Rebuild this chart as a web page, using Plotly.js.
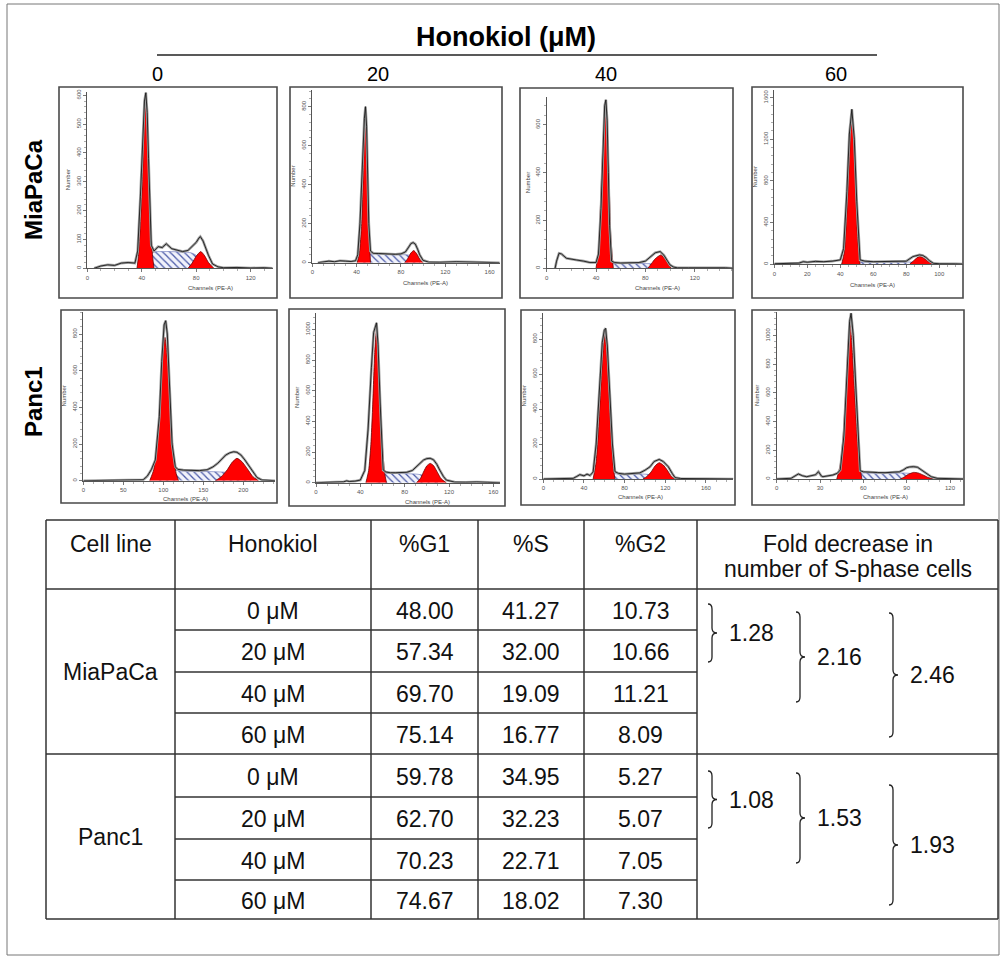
<!DOCTYPE html>
<html><head><meta charset="utf-8">
<script src="https://cdn.plot.ly/plotly-3.0.1.min.js"></script>
<style>html,body{margin:0;padding:0;background:#fff}#chart{width:1002px;height:957px}</style>
</head><body><div id="chart"></div>
<script>
// ================= DATA =================
const doseHeader = ["0", "20", "40", "60"];
const cellLines = ["MiaPaCa", "Panc1"];
const doseLabels = ["0 μM", "20 μM", "40 μM", "60 μM"];
const tableHeaders = ["Cell line", "Honokiol", "%G1", "%S", "%G2"];
const foldHeader = ["Fold decrease in", "number of S-phase cells"];

const miaG1 = [48.00, 57.34, 69.70, 75.14];
const miaS  = [41.27, 32.00, 19.09, 16.77];
const miaG2 = [10.73, 10.66, 11.21, 8.09];
const panG1 = [59.78, 62.70, 70.23, 74.67];
const panS  = [34.95, 32.23, 22.71, 18.02];
const panG2 = [5.27, 5.07, 7.05, 7.30];
const miaFold = [1.28, 2.16, 2.46];
const panFold = [1.08, 1.53, 1.93];

// ---- DNA histograms (channel, count) ----
// MiaPaCa 0 uM
const mia0_ch  = [5,10,15,20,25,30,35,37,39,41,42,43,44,45,46,47,49,52,55,58,62,66,70,74,77,80,82,83,85,87,89,92,96,100,110,120,130,136];
const mia0_cnt = [0,8,12,10,18,20,18,60,250,480,580,609,540,380,200,80,60,75,72,85,68,64,58,62,75,90,105,110,95,70,45,15,5,2,3,1,2,0];
const mia0_g1x = [36.5,37.5,39,40.4,42,42.9,44,45.3,46.5,48,49];
const mia0_g1y = [0,40,150,300,520,601,480,300,150,40,0];
const mia0_g2x = [74,77,80,83.3,86,89,93];
const mia0_g2y = [0,18,42,58,45,20,0];
const mia0_sx  = [40,44,48,55,62,70,76,80,84,88];
const mia0_sy  = [0,30,55,58,58,56,54,45,25,0];
const mia0_pk  = [42.9,83.3];
// MiaPaCa 20 uM
const mia20_ch  = [5,10,15,20,25,30,35,39,41,43,45,47,48,49,50,51,52.5,55,60,65,70,75,80,84,87,89,91,93,95,97,100,105,115,130,145,160,169];
const mia20_cnt = [0,5,8,5,10,8,6,10,40,200,480,740,800,700,450,200,60,48,47,45,44,43,45,55,80,98,103,95,70,40,12,3,2,5,3,2,0];
const mia20_g1x = [40.5,42.5,44.5,46,47.2,48,49,50.2,51.3,52.5];
const mia20_g1y = [0,50,200,450,700,790,640,400,150,0];
const mia20_g2x = [83.4,86,89,91.5,94,97,100];
const mia20_g2y = [0,20,50,62,48,18,0];
const mia20_sx  = [46,50,55,65,75,82,88,93,97];
const mia20_sy  = [0,40,46,44,42,41,38,20,0];
const mia20_pk  = [47.6,91.6];
// MiaPaCa 40 uM
const mia40_ch  = [6.8,8,10,12,16,20,24,30,35,40,42,44,46,47,48,49,50,51,52.6,55,60,65,70,75,80,84,88,92,95,98,100,103,106,115,130,145,151];
const mia40_cnt = [0,30,63,60,42,40,35,30,24,24,60,250,560,680,705,620,400,180,30,24,22,22,23,24,30,49,65,70,55,30,14,5,2,2,3,2,0];
const mia40_g1x = [40,42,43.5,45,46.5,47.8,49,50.5,52,54];
const mia40_g1y = [0,80,250,450,620,690,600,380,130,0];
const mia40_g2x = [82,85,88,92.6,96,99,101];
const mia40_g2y = [0,20,40,56,40,14,0];
const mia40_sx  = [44,50,60,70,80,86,92,98];
const mia40_sy  = [0,20,20,20,20,18,10,0];
const mia40_pk  = [48,92.8];
// MiaPaCa 60 uM
const mia60_ch  = [0,5,10,15,17.6,20,25,30,35,38,40,42,44,45.5,47,48.5,50,52,55,60,65,70,75,80,84,86,88,90,92,94,96.4,100,105,110,114];
const mia60_cnt = [5,8,10,12,25,20,28,25,30,35,42,150,700,1250,1488,1200,600,42,30,25,25,28,25,30,74,85,90,85,65,35,10,5,8,4,2];
const mia60_g1x = [40.8,42.5,44,45.5,46.5,47,48,49.3,50.5,52];
const mia60_g1y = [0,120,500,1000,1350,1418,1250,750,250,0];
const mia60_g2x = [82,84.5,86.5,88,90,93,96.4];
const mia60_g2y = [0,35,62,74,65,30,0];
const mia60_sx  = [44,50,60,70,78,84,90,94];
const mia60_sy  = [0,20,18,18,20,22,12,0];
const mia60_pk  = [47.3,85.6];
// Panc1 0 uM
const pan0_ch  = [0,20,40,60,75,80,85,90,95,98,101,103,105,108,111,115,118,125,135,145,155,162,168,173,178,183,188,192,197,202,207,212,217,223,230,240];
const pan0_cnt = [0,2,0,3,5,25,60,113,350,650,850,873,800,500,200,76,62,58,55,55,60,75,95,115,140,152,158,155,140,113,80,45,18,4,2,0];
const pan0_g1x = [83,88,92,95,98,102,106,109,112,116,119];
const pan0_g1y = [0,60,200,380,620,782,620,380,180,40,0];
const pan0_g2x = [165,172,180,186,192,198,205,212,219];
const pan0_g2y = [0,20,60,100,122,105,65,22,0];
const pan0_sx  = [95,105,115,125,140,155,170,180,190,200,210];
const pan0_sy  = [0,35,55,52,50,50,48,45,38,20,0];
const pan0_pk  = [104,188.5];
// Panc1 20 uM
const pan20_ch  = [0,10,20,25,27.7,30,35,40,44,47,50,52,54.6,56,58,60.6,63,67,72,77,82,87,91,94,97,100,103,106,109,111.6,115,117.6,125,135,145,155,166];
const pan20_cnt = [0,2,4,6,12,8,10,17,80,350,750,980,1043,900,500,83,70,65,65,66,68,80,110,130,148,157,159,150,120,83,40,17,4,3,5,2,0];
const pan20_g1x = [45,47.5,49.5,51,53,54.6,56.5,58.3,60,62,63.6];
const pan20_g1y = [0,80,250,480,850,996,800,500,230,60,0];
const pan20_g2x = [90.6,94,97,100,103,106,109,113,117.6];
const pan20_g2y = [0,25,70,110,126,112,75,25,0];
const pan20_sx  = [55,60,65,75,85,92,98,104,110];
const pan20_sy  = [0,50,60,60,58,55,45,25,0];
const pan20_pk  = [55.2,103.2];
// Panc1 40 uM
const pan40_ch  = [0,10,20,29.5,33,36,40,43,46,49,52,55,58,60,61.3,63,65,68,70.5,74,80,88,95,100,105,109,114,118,123,127,129.6,135,145,160,175,187];
const pan40_cnt = [0,2,3,4,15,25,18,28,20,40,200,500,780,850,861,760,520,200,42,32,28,30,35,50,70,100,112,100,70,30,8,3,2,3,2,0];
const pan40_g1x = [49,52,54.5,57,59.5,60.7,62,64.5,67,69,70.5];
const pan40_g1y = [0,100,300,570,780,823,760,500,230,60,0];
const pan40_g2x = [98,102,106,110,114,118,122,126,129.6];
const pan40_g2y = [0,15,40,75,93,80,50,15,0];
const pan40_sx  = [56,62,70,80,90,100,108,115,120];
const pan40_sy  = [0,25,30,28,28,28,22,12,0];
const pan40_pk  = [60.7,113.8];
// Panc1 60 uM
const pan60_ch  = [0,5,10,15,18,20.8,24,27,28.9,31,32,35,39,42,44,46.5,49,50.5,51.5,53,55,57.8,60,65,70,75,80,85,88,90,92,94.7,97.5,100.5,104,107,111,115,120,129];
const pan60_cnt = [0,2,5,35,22,16,25,30,51,20,16,22,28,40,63,300,800,1100,1156,1000,600,58,50,45,45,44,45,50,65,79,84,86,82,63,35,16,5,3,2,0];
const pan60_g1x = [41.6,44,46,48,49.5,50.8,52,54,56,58,59];
const pan60_g1y = [0,100,300,650,950,1086,950,600,250,60,0];
const pan60_g2x = [85.5,88,91,94.7,98,102,105,108.6];
const pan60_g2y = [0,12,32,46,42,25,10,0];
const pan60_sx  = [48,55,60,70,80,88,95,102,108];
const pan60_sy  = [0,35,42,40,40,42,35,15,0];
const pan60_pk  = [50.8,91.7];

// ================= LAYOUT HELPERS =================
const W = 1002, H = 957;
const px = x => x / W;
const py = y => 1 - y / H;
const FONT = 'Arial, "Liberation Sans", sans-serif';

const hist = [
  [mia0_ch, mia0_cnt, mia0_g1x, mia0_g1y, mia0_g2x, mia0_g2y, mia0_sx, mia0_sy, mia0_pk],
  [mia20_ch, mia20_cnt, mia20_g1x, mia20_g1y, mia20_g2x, mia20_g2y, mia20_sx, mia20_sy, mia20_pk],
  [mia40_ch, mia40_cnt, mia40_g1x, mia40_g1y, mia40_g2x, mia40_g2y, mia40_sx, mia40_sy, mia40_pk],
  [mia60_ch, mia60_cnt, mia60_g1x, mia60_g1y, mia60_g2x, mia60_g2y, mia60_sx, mia60_sy, mia60_pk],
  [pan0_ch, pan0_cnt, pan0_g1x, pan0_g1y, pan0_g2x, pan0_g2y, pan0_sx, pan0_sy, pan0_pk],
  [pan20_ch, pan20_cnt, pan20_g1x, pan20_g1y, pan20_g2x, pan20_g2y, pan20_sx, pan20_sy, pan20_pk],
  [pan40_ch, pan40_cnt, pan40_g1x, pan40_g1y, pan40_g2x, pan40_g2y, pan40_sx, pan40_sy, pan40_pk],
  [pan60_ch, pan60_cnt, pan60_g1x, pan60_g1y, pan60_g2x, pan60_g2y, pan60_sx, pan60_sy, pan60_pk]
];

// panel geometry (pixels): frame [l,t,r,b], plot [l,r,bottom,top], axis ranges, tick steps, x-title position
const panels = [
  {frame:[59,87,277,298],  plot:[87.3,273,268.3,91.7],  xmax:136.4, ymax:612.5, dx:40, dy:100, tx:210, ty:288},
  {frame:[290,87,502,298], plot:[312.3,500,262.7,90],   xmax:169.4, ymax:885.6, dx:40, dy:200, tx:425, ty:283},
  {frame:[520,88,733,298], plot:[546.7,732.7,268.3,96.7], xmax:150.8, ymax:718, dx:40, dy:200, tx:657, ty:288},
  {frame:[752,87,963,298], plot:[774.3,962.7,264.3,90], xmax:114.2, ymax:1673, dx:20, dy:400, tx:872, ty:285},
  {frame:[61,310,277,503], plot:[83.3,275,480.7,311.7], xmax:239.6, ymax:922, dx:50, dy:200, tx:185, ty:499},
  {frame:[289,309,505,506], plot:[316,500,482.7,313.3], xmax:166, ymax:1105, dx:40, dy:200, tx:427, ty:502},
  {frame:[521,310,735,505], plot:[543.3,733.3,479,313.3], xmax:186.9, ymax:947, dx:40, dy:200, tx:640, ty:497},
  {frame:[752,310,964,505], plot:[776.7,963.3,479,311.7], xmax:129.2, ymax:1167, dx:30, dy:200, tx:885, ty:497}
];

const traces = [];
const layout = {
  width: W, height: H,
  margin: {l:0, r:0, t:0, b:0},
  paper_bgcolor: '#fff', plot_bgcolor: 'rgba(0,0,0,0)',
  showlegend: false,
  font: {family: FONT, color: '#000'},
  shapes: [], annotations: []
};

panels.forEach((p, i) => {
  const k = i + 1;
  const xa = 'x' + k, ya = 'y' + k;
  const [ch, cnt, g1x, g1y, g2x, g2y, sx, sy, pk] = hist[i];
  const axBase = {
    showgrid: false, zeroline: false, showline: true, linecolor: '#555', linewidth: 1,
    ticks: 'outside', ticklen: 3, tickwidth: 0.8, tickcolor: '#555',
    tickfont: {size: 6, color: '#555', family: FONT}, fixedrange: true, tick0: 0
  };
  layout['xaxis' + k] = Object.assign({}, axBase, {
    domain: [px(p.plot[0]), px(p.plot[1])], range: [0, p.xmax], anchor: ya, dtick: p.dx,
    minor: {ticks: 'outside', ticklen: 2, dtick: p.dx / 4, tickcolor: '#777', tickwidth: 0.6}
  });
  layout['yaxis' + k] = Object.assign({}, axBase, {
    domain: [py(p.plot[2]), py(p.plot[3])], range: [0, p.ymax], anchor: xa, dtick: p.dy,
    tickangle: -90,
    minor: {ticks: 'outside', ticklen: 2, dtick: p.dy / 5, tickcolor: '#777', tickwidth: 0.6}
  });
  // S-phase hatched area
  traces.push({x: sx, y: sy, xaxis: xa, yaxis: ya, type: 'scatter', mode: 'lines', fill: 'tozeroy',
    line: {color: '#6a74b8', width: 0.6, shape: 'spline'}, fillcolor: '#f1f2fb',
    fillpattern: {shape: '\\', fgcolor: '#4b5aa8', bgcolor: '#f1f2fb', size: 5, solidity: 0.25},
    hoverinfo: 'skip'});
  // G1 and G2 model peaks
  [[g1x, g1y], [g2x, g2y]].forEach(([gx, gy]) => {
    traces.push({x: gx, y: gy, xaxis: xa, yaxis: ya, type: 'scatter', mode: 'lines', fill: 'tozeroy',
      fillcolor: '#ff0000', line: {color: '#6e0000', width: 0.8, shape: 'spline', smoothing: 0.6},
      hoverinfo: 'skip'});
  });
  // measured histogram: gray halo + black line
  traces.push({x: ch, y: cnt, xaxis: xa, yaxis: ya, type: 'scatter', mode: 'lines',
    line: {color: '#a0a0a0', width: 2.6}, hoverinfo: 'skip'});
  traces.push({x: ch, y: cnt, xaxis: xa, yaxis: ya, type: 'scatter', mode: 'lines',
    line: {color: '#1a1a1a', width: 0.9}, hoverinfo: 'skip'});
  // peak markers (triangles just under the axis)
  traces.push({x: pk, y: pk.map(() => -p.ymax * 0.019), xaxis: xa, yaxis: ya, type: 'scatter', mode: 'markers',
    marker: {symbol: 'triangle-up', size: 6, color: '#000'}, cliponaxis: false, hoverinfo: 'skip'});
  // frame
  layout.shapes.push({type: 'rect', xref: 'paper', yref: 'paper',
    x0: px(p.frame[0]), x1: px(p.frame[2]), y0: py(p.frame[3]), y1: py(p.frame[1]),
    line: {color: '#4a4a4a', width: 1.6}, fillcolor: 'rgba(0,0,0,0)'});
  // axis titles
  layout.annotations.push({xref: 'paper', yref: 'paper', x: px(p.tx), y: py(p.ty), text: 'Channels (PE-A)',
    showarrow: false, font: {size: 6, color: '#444', family: FONT}, xanchor: 'center', yanchor: 'middle'});
  layout.annotations.push({xref: 'paper', yref: 'paper', x: px(p.plot[0] - 19), y: py((p.plot[2] + p.plot[3]) / 2),
    text: 'Number', textangle: -90, showarrow: false, font: {size: 6, color: '#444', family: FONT},
    xanchor: 'center', yanchor: 'middle'});
});

// ---- figure header ----
const A = layout.annotations, S = layout.shapes;
A.push({xref:'paper', yref:'paper', x: px(506), y: py(37), text: '<b>Honokiol (μM)</b>', showarrow:false,
  font:{size:27, family:FONT, color:'#000'}, xanchor:'center', yanchor:'middle'});
S.push({type:'line', xref:'paper', yref:'paper', x0:px(157), x1:px(877), y0:py(55), y1:py(55), line:{color:'#222', width:1.3}});
const colCenters = [157, 378, 606, 836];
doseHeader.forEach((d, i) => A.push({xref:'paper', yref:'paper', x: px(colCenters[i]), y: py(74), text: d,
  showarrow:false, font:{size:20, family:FONT, color:'#000'}, xanchor:'center', yanchor:'middle'}));
const rowCenters = [190, 402];
cellLines.forEach((c, i) => A.push({xref:'paper', yref:'paper', x: px(33), y: py(rowCenters[i]), text: '<b>' + c + '</b>',
  textangle: -90, showarrow:false, font:{size:24, family:FONT, color:'#000'}, xanchor:'center', yanchor:'middle'}));

// outer border
S.push({type:'rect', xref:'paper', yref:'paper', x0:px(7), x1:px(999), y0:py(955), y1:py(4),
  line:{color:'#777', width:1}, fillcolor:'rgba(0,0,0,0)'});

// ---- table ----
const colX = [46, 175, 371, 478, 584, 697, 998];
const rowY = [520, 589, 630, 672, 713, 754, 797, 839, 880, 919];
const tcol = '#333', tw = 1.5;
const hline = (x0, x1, y) => S.push({type:'line', xref:'paper', yref:'paper', x0:px(x0), x1:px(x1), y0:py(y), y1:py(y), line:{color:tcol, width:tw}});
const vline = (x, y0, y1) => S.push({type:'line', xref:'paper', yref:'paper', x0:px(x), x1:px(x), y0:py(y0), y1:py(y1), line:{color:tcol, width:tw}});
[rowY[0], rowY[1], rowY[5], rowY[9]].forEach(y => hline(colX[0], colX[6], y));
[rowY[2], rowY[3], rowY[4], rowY[6], rowY[7], rowY[8]].forEach(y => hline(colX[1], colX[5], y));
colX.forEach(x => vline(x, rowY[0], rowY[9]));

const TFS = 23;
const cx = i => (colX[i] + colX[i + 1]) / 2;
const txt = (x, y, t, xa) => A.push({xref:'paper', yref:'paper', x: px(x), y: py(y), text: t, showarrow:false,
  font:{size:TFS, family:FONT, color:'#111'}, xanchor: xa || 'center', yanchor:'middle'});
tableHeaders.forEach((h, i) => txt(cx(i), 544, h));
txt(cx(5), 544, foldHeader[0]);
txt(cx(5), 569, foldHeader[1]);

const groups = [
  {name: cellLines[0], g1: miaG1, s: miaS, g2: miaG2, fold: miaFold, r0: 1},
  {name: cellLines[1], g1: panG1, s: panS, g2: panG2, fold: panFold, r0: 5}
];
groups.forEach(g => {
  txt(cx(0), (rowY[g.r0] + rowY[g.r0 + 4]) / 2, g.name);
  doseLabels.forEach((d, j) => {
    const yc = (rowY[g.r0 + j] + rowY[g.r0 + j + 1]) / 2 + 1;
    txt(cx(1), yc, d);
    txt(cx(2), yc, g.g1[j].toFixed(2));
    txt(cx(3), yc, g.s[j].toFixed(2));
    txt(cx(4), yc, g.g2[j].toFixed(2));
  });
});

// braces with fold-change values
function brace(x, y1, y2) {
  const m = (y1 + y2) / 2, h = 5;
  const P = (a, b) => px(a) + ',' + py(b);
  const path = 'M ' + P(x - 4, y1) + ' Q ' + P(x, y1) + ' ' + P(x, y1 + h) + ' L ' + P(x, m - h) +
    ' Q ' + P(x, m) + ' ' + P(x + 5, m) + ' Q ' + P(x, m) + ' ' + P(x, m + h) +
    ' L ' + P(x, y2 - h) + ' Q ' + P(x, y2) + ' ' + P(x - 4, y2);
  S.push({type:'path', xref:'paper', yref:'paper', path: path, line:{color:'#222', width:1.3}});
}
const braceSets = [
  [[712, 604, 662], [800, 612, 702], [893, 613, 737]],
  [[712, 771, 828], [800, 773, 863], [893, 785, 905]]
];
groups.forEach((g, gi) => {
  braceSets[gi].forEach((b, j) => {
    brace(b[0], b[1], b[2]);
    txt(b[0] + 15, (b[1] + b[2]) / 2, g.fold[j].toFixed(2), 'left');
  });
});

Plotly.newPlot('chart', traces, layout, {staticPlot: true, displayModeBar: false});
</script>
</body></html>
